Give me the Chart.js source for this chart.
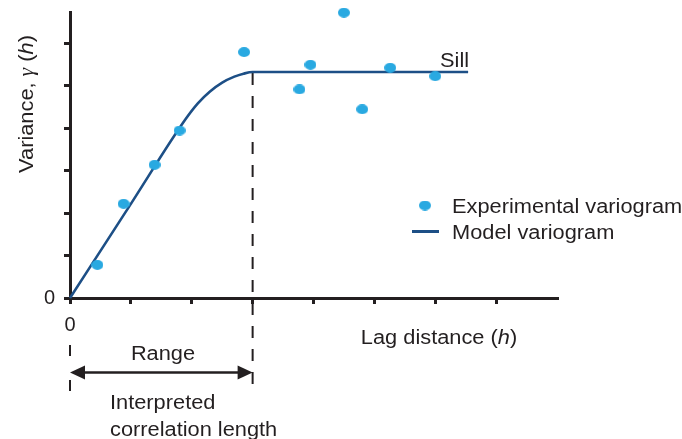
<!DOCTYPE html>
<html>
<head>
<meta charset="utf-8">
<script src="https://cdn.jsdelivr.net/npm/chart.js@4"></script>
<style>
  html, body { margin: 0; padding: 0; background: #fff; }
  #wrap { width: 682px; height: 439px; position: relative; }
</style>
</head>
<body>
<div id="wrap"><canvas id="chart"></canvas></div>
<script>
// Experimental semivariogram samples (lag h, gamma(h))
const lagDistance  = [0.45, 0.88, 1.39, 1.80, 2.86, 3.77, 3.95, 4.50, 4.80, 5.26, 6.00];
const semivariance = [0.78, 2.22, 3.14, 3.95, 5.80, 4.92, 5.50, 6.73, 4.45, 5.43, 5.23];

// Fitted model variogram
const modelLag   = [0, 1.0, 1.9, 2.1, 2.3, 2.5, 2.7, 2.85, 3.0, 6.54];
const modelGamma = [0, 2.22, 4.22, 4.59, 4.87, 5.08, 5.22, 5.29, 5.33, 5.33];

const rangeLag  = 3.0;
const sillGamma = 5.33;

const xTicks = [0, 1, 2, 3, 4, 5, 6, 7];
const yTicks = [0, 1, 2, 3, 4, 5, 6];
const seriesLabels = ['Experimental variogram', 'Model variogram'];

const INK = '#231f20';
const DOT = '#29a9e1';
const CURVE = '#1d4f86';
const SANS = '"Liberation Sans", Arial, Helvetica, sans-serif';
const SERIF = '"Liberation Serif", "Times New Roman", serif';
const WIDEN = 1.09; // the annotation lettering runs a little wider than Arial

// slightly flattened dot used for the experimental points
function makeDot(w, h) {
  const c = document.createElement('canvas');
  c.width = w; c.height = h;
  const g = c.getContext('2d');
  g.fillStyle = DOT;
  g.beginPath();
  g.ellipse(w / 2, h / 2, w / 2, h / 2, 0, 0, Math.PI * 2);
  g.fill();
  return c;
}
const dotImg = makeDot(12, 10);

// draws a run of [text, font] pieces, widened, starting at (or centred on) x
function drawRuns(ctx, runs, x, y, align) {
  let total = 0;
  runs.forEach(r => { ctx.font = r[1]; total += ctx.measureText(r[0]).width; });
  const start = align === 'center' ? x - total * WIDEN / 2 : x;
  ctx.save();
  ctx.translate(start, y);
  ctx.scale(WIDEN, 1);
  ctx.textAlign = 'left';
  let cx = 0;
  runs.forEach(r => {
    ctx.font = r[1];
    ctx.fillText(r[0], cx, 0);
    cx += ctx.measureText(r[0]).width;
  });
  ctx.restore();
}

const annotations = {
  id: 'variogramNotes',
  beforeDatasetsDraw(chart) {
    const { ctx, scales: { x, y } } = chart;
    const xr = x.getPixelForValue(rangeLag);
    const ys = y.getPixelForValue(sillGamma);
    ctx.save();
    ctx.strokeStyle = INK;
    ctx.lineWidth = 2;
    ctx.setLineDash([12, 11]);
    ctx.beginPath();
    ctx.moveTo(xr, ys + 1);
    ctx.lineTo(xr, 393);
    ctx.stroke();
    ctx.restore();
  },
  afterDraw(chart) {
    const { ctx, scales: { x, y } } = chart;
    const x0 = x.getPixelForValue(0);
    const xr = x.getPixelForValue(rangeLag);
    const f20 = '20px ' + SANS;
    const f20i = 'italic 20px ' + SANS;
    ctx.save();
    ctx.fillStyle = INK;
    ctx.strokeStyle = INK;
    ctx.textBaseline = 'alphabetic';

    // dashed marker under the origin
    ctx.lineWidth = 2;
    ctx.setLineDash([11, 24]);
    ctx.beginPath();
    ctx.moveTo(x0, 345);
    ctx.lineTo(x0, 392);
    ctx.stroke();
    ctx.setLineDash([]);

    // range arrow
    const ay = 372.5, head = 15, half = 7;
    ctx.lineWidth = 2.5;
    ctx.beginPath();
    ctx.moveTo(x0 + head - 2, ay);
    ctx.lineTo(xr - head + 2, ay);
    ctx.stroke();
    ctx.beginPath();
    ctx.moveTo(x0, ay); ctx.lineTo(x0 + head, ay - half); ctx.lineTo(x0 + head, ay + half); ctx.closePath();
    ctx.fill();
    ctx.beginPath();
    ctx.moveTo(xr, ay); ctx.lineTo(xr - head, ay - half); ctx.lineTo(xr - head, ay + half); ctx.closePath();
    ctx.fill();

    // text labels
    drawRuns(ctx, [['Range', f20]], 163, 360, 'center');
    drawRuns(ctx, [['Interpreted', f20]], 110, 409, 'left');
    drawRuns(ctx, [['correlation length', f20]], 110, 436, 'left');
    drawRuns(ctx, [['Sill', f20]], 440, 67, 'left');
    drawRuns(ctx, [['Lag distance (', f20], ['h', f20i], [')', f20]], 439, 344, 'center');

    // y-axis title
    ctx.save();
    ctx.translate(32.5, 104);
    ctx.rotate(-Math.PI / 2);
    drawRuns(ctx, [['Variance, ', f20], ['\u03b3', 'italic 20px ' + SERIF], [' (', f20], ['h', f20i], [')', f20]], 0, 0, 'center');
    ctx.restore();

    // legend
    ctx.drawImage(dotImg, 425 - 6, 205.5 - 5);
    ctx.strokeStyle = CURVE;
    ctx.lineWidth = 3;
    ctx.beginPath();
    ctx.moveTo(412, 231.5);
    ctx.lineTo(439, 231.5);
    ctx.stroke();
    ctx.fillStyle = INK;
    drawRuns(ctx, [[chart.data.datasets[0].label, f20]], 452, 213, 'left');
    drawRuns(ctx, [[chart.data.datasets[1].label, f20]], 452, 239, 'left');
    ctx.restore();
  }
};

const axisCommon = {
  type: 'linear',
  grid: {
    drawOnChartArea: false,
    drawTicks: true,
    tickLength: 6,
    lineWidth: 3,
    color: INK
  },
  border: { display: true, color: INK, width: 3 },
  ticks: {
    font: { family: SANS, size: 20 },
    color: INK,
    padding: 9,
    autoSkip: false,
    maxRotation: 0,
    callback: v => (v === 0 ? '0' : '')
  }
};

new Chart(document.getElementById('chart'), {
  type: 'scatter',
  data: {
    datasets: [
      {
        label: seriesLabels[0],
        data: lagDistance.map((h, i) => ({ x: h, y: semivariance[i] })),
        pointStyle: dotImg,
        pointRadius: 6,
        pointHoverRadius: 6,
        backgroundColor: DOT,
        borderColor: DOT,
        showLine: false,
        clip: false
      },
      {
        label: seriesLabels[1],
        data: modelLag.map((h, i) => ({ x: h, y: modelGamma[i] })),
        showLine: true,
        borderColor: CURVE,
        borderWidth: 2.6,
        pointRadius: 0,
        cubicInterpolationMode: 'monotone',
        clip: false
      }
    ]
  },
  options: {
    responsive: true,
    maintainAspectRatio: false,
    animation: false,
    events: [],
    layout: { padding: { top: 12, right: 125, left: 0, bottom: 0 } },
    plugins: { legend: { display: false }, tooltip: { enabled: false } },
    scales: {
      x: Object.assign({}, axisCommon, {
        position: 'bottom',
        min: 0,
        max: 8,
        afterBuildTicks: s => { s.ticks = xTicks.map(v => ({ value: v })); },
        afterFit: s => { s.height = 141; s.paddingLeft = 0; s.paddingRight = 0; }
      }),
      y: Object.assign({}, axisCommon, {
        position: 'left',
        min: 0,
        max: 6.745,
        afterBuildTicks: s => { s.ticks = yTicks.map(v => ({ value: v })); },
        afterFit: s => { s.width = 70; s.paddingTop = 0; s.paddingBottom = 0; }
      })
    }
  },
  plugins: [annotations]
});
</script>
</body>
</html>
